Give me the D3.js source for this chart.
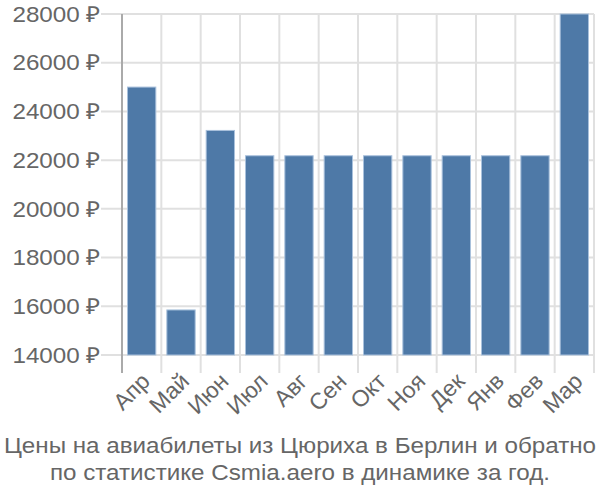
<!DOCTYPE html>
<html><head><meta charset="utf-8">
<script src="https://cdn.jsdelivr.net/npm/d3@7"></script>
<style>body{margin:0;background:#fff}</style>
</head><body>
<svg id="c" width="600" height="500"></svg>
<script>
const months = ["Апр","Май","Июн","Июл","Авг","Сен","Окт","Ноя","Дек","Янв","Фев","Мар"];
const prices = [25000,15850,23220,22180,22180,22180,22180,22180,22180,22180,22180,28000];
const yTicks = [14000,16000,18000,20000,22000,24000,26000,28000];
const titleLines = ["Цены на авиабилеты из Цюриха в Берлин и обратно","по статистике Csmia.aero в динамике за год."];

const svg = d3.select("#c");
const L=122,R=594,T=14,B=355;
const font="'Liberation Sans', Arial, sans-serif";
const FS=22, SX=1.1;
const x = d3.scaleBand().domain(months).range([L,R]).paddingInner(0.28).paddingOuter(0.14);
const y = d3.scaleLinear().domain([14000,28000]).range([B,T]);
const step = x.step();

// horizontal grid
svg.append("g").selectAll("line").data(yTicks).join("line")
  .attr("x1",L-21).attr("x2",R).attr("y1",d=>y(d)).attr("y2",d=>y(d))
  .attr("stroke","#e0e0e0").attr("stroke-width",2);
// vertical grid
const bounds = months.map(m=>x(m)-x.paddingInner()*step/2).concat([R]);
svg.append("g").selectAll("line").data(bounds.slice(1)).join("line")
  .attr("x1",d=>d).attr("x2",d=>d).attr("y1",T).attr("y2",B+18)
  .attr("stroke","#e0e0e0").attr("stroke-width",2);
// y axis line
svg.append("line").attr("x1",L).attr("x2",L).attr("y1",T).attr("y2",B+18)
  .attr("stroke","#aaa").attr("stroke-width",2);

// bars
svg.append("g").selectAll("rect").data(months).join("rect")
  .attr("x",d=>x(d)).attr("width",x.bandwidth())
  .attr("y",(d,i)=>y(prices[i])).attr("height",(d,i)=>B-y(prices[i]))
  .attr("fill","#4e79a7").attr("stroke","#a9c1dc").attr("stroke-width",1);

// y labels
svg.append("g").selectAll("text").data(yTicks).join("text")
  .attr("transform",d=>`translate(100,${y(d)}) scale(${SX},1)`)
  .attr("dy","0.35em").attr("text-anchor","end")
  .attr("font-family",font).attr("font-size",FS).attr("fill","#666")
  .text(d=>d+" ₽");
// x labels
svg.append("g").selectAll("text").data(months).join("text")
  .attr("transform",d=>`translate(${x(d)+x.bandwidth()/2+4},${B+22}) rotate(-45)`)
  .attr("text-anchor","end").attr("dy","0.35em")
  .attr("font-family",font).attr("font-size",23).attr("fill","#666")
  .text(d=>d);
// title
svg.append("g").selectAll("text").data(titleLines).join("text")
  .attr("transform",(d,i)=>`translate(300,${453+i*27}) scale(${SX},1)`)
  .attr("text-anchor","middle")
  .attr("font-family",font).attr("font-size",FS).attr("fill","#666")
  .text(d=>d);
</script>
</body></html>
